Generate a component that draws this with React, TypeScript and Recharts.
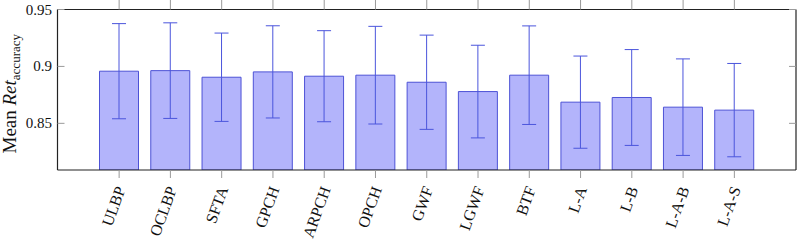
import React from 'react';
import { BarChart, Bar, XAxis, YAxis, ErrorBar, Label } from 'recharts';

const categories = ['ULBP', 'OCLBP', 'SFTA', 'GPCH', 'ARPCH', 'OPCH', 'GWF', 'LGWF', 'BTF', 'L-A', 'L-B', 'L-A-B', 'L-A-S'];
const means = [0.8958, 0.8963, 0.8905, 0.8952, 0.8914, 0.8923, 0.8861, 0.8779, 0.8923, 0.8686, 0.8727, 0.8642, 0.8616];
const stds = [0.0418, 0.042, 0.0388, 0.0405, 0.04, 0.0429, 0.0414, 0.0407, 0.0433, 0.0405, 0.0421, 0.0424, 0.041];
const yTicks = [0.85, 0.9, 0.95];
const yTickLabels = ['0.85', '0.9', '0.95'];

const data = categories.map((name, i) => ({ name, mean: means[i], err: stds[i] }));

const FONT = "'Liberation Serif', 'Times New Roman', serif";
const TICK_GREY = '#9a9a9a';
const AXIS = '#222';

function XTick(props: any) {
  const { x, y, payload } = props;
  return (
    <g>
      <line x1={x} x2={x} y1={y - 9} y2={y - 17} stroke={TICK_GREY} strokeWidth={1} />
      <text
        transform={`translate(${x + 1.5},${y}) rotate(-70)`}
        textAnchor="end"
        dominantBaseline="central"
        style={{ fontFamily: FONT, fontSize: 16 }}
        fill="#111"
      >
        {payload.value}
      </text>
    </g>
  );
}

function XTickTop(props: any) {
  const { x, y } = props;
  return <line x1={x} x2={x} y1={y} y2={y - 10} stroke={TICK_GREY} strokeWidth={1} />;
}

function YTickLeft(props: any) {
  const { x, y, payload } = props;
  const i = yTicks.indexOf(payload.value);
  return (
    <g>
      <line x1={x + 5.5} x2={x + 12.5} y1={y} y2={y} stroke={TICK_GREY} strokeWidth={1} />
      <text x={x} y={y} textAnchor="end" dominantBaseline="central" style={{ fontFamily: FONT, fontSize: 15 }} fill="#111">
        {i >= 0 ? yTickLabels[i] : payload.value}
      </text>
    </g>
  );
}

function YTickRight(props: any) {
  const { x, y } = props;
  return <line x1={x - 7} x2={x} y1={y} y2={y} stroke={TICK_GREY} strokeWidth={1} />;
}

function YLabel(props: any) {
  const vb = props.viewBox || { x: 0, y: 0, width: 58, height: 160 };
  const bx = vb.x + 16;
  const cy = vb.y + vb.height / 2 + 4;
  return (
    <text
      transform={`translate(${bx},${cy}) rotate(-90)`}
      textAnchor="middle"
      style={{ fontFamily: FONT, fontSize: 19 }}
      fill="#111"
    >
      Mean <tspan fontStyle="italic">Ret</tspan>
      <tspan style={{ fontSize: 13 }} dy={3.5}>accuracy</tspan>
    </text>
  );
}

export default function App() {
  return (
    <div style={{ position: 'absolute', left: 0, top: 0, width: 798, height: 242, background: '#fff' }}>
      <BarChart
        width={798}
        height={242}
        data={data}
        margin={{ top: 9.5, right: 2, bottom: 0, left: 0 }}
        barCategoryGap={0}
      >
        <XAxis
          dataKey="name"
          xAxisId={0}
          height={72}
          padding={{ left: 36, right: 36 }}
          axisLine={{ stroke: AXIS, strokeWidth: 1.2 }}
          tickLine={false}
          tickSize={0}
          tickMargin={17}
          tick={<XTick />}
          interval={0}
        />
        <XAxis
          dataKey="name"
          xAxisId="top"
          orientation="top"
          height={1}
          padding={{ left: 36, right: 36 }}
          axisLine={{ stroke: AXIS, strokeWidth: 1.2 }}
          tickLine={false}
          tickSize={0}
          tickMargin={0}
          tick={<XTickTop />}
          interval={0}
          mirror
        />
        <YAxis
          yAxisId={0}
          width={57.5}
          type="number"
          domain={[0.809, 0.95]}
          ticks={yTicks}
          allowDataOverflow
          axisLine={{ stroke: AXIS, strokeWidth: 1.2 }}
          tickLine={false}
          tickSize={0}
          tickMargin={5.5}
          tick={<YTickLeft />}
          label={<Label content={<YLabel />} />}
        />
        <YAxis
          yAxisId="right"
          orientation="right"
          width={1}
          type="number"
          domain={[0.809, 0.95]}
          ticks={yTicks}
          allowDataOverflow
          axisLine={{ stroke: AXIS, strokeWidth: 1.2 }}
          tickLine={false}
          tickSize={0}
          tickMargin={0}
          tick={<YTickRight />}
          mirror
        />
        <Bar
          dataKey="mean"
          xAxisId="top"
          yAxisId="right"
          barSize={39}
          fill="none"
          stroke="none"
          isAnimationActive={false}
        />
        <Bar
          dataKey="mean"
          xAxisId={0}
          yAxisId={0}
          barSize={39}
          fill="#b3b4fb"
          stroke="#4d52d6"
          strokeWidth={1}
          isAnimationActive={false}
        >
          <ErrorBar dataKey="err" width={7} stroke="#4b55dc" strokeWidth={1} direction="y" />
        </Bar>
      </BarChart>
    </div>
  );
}
